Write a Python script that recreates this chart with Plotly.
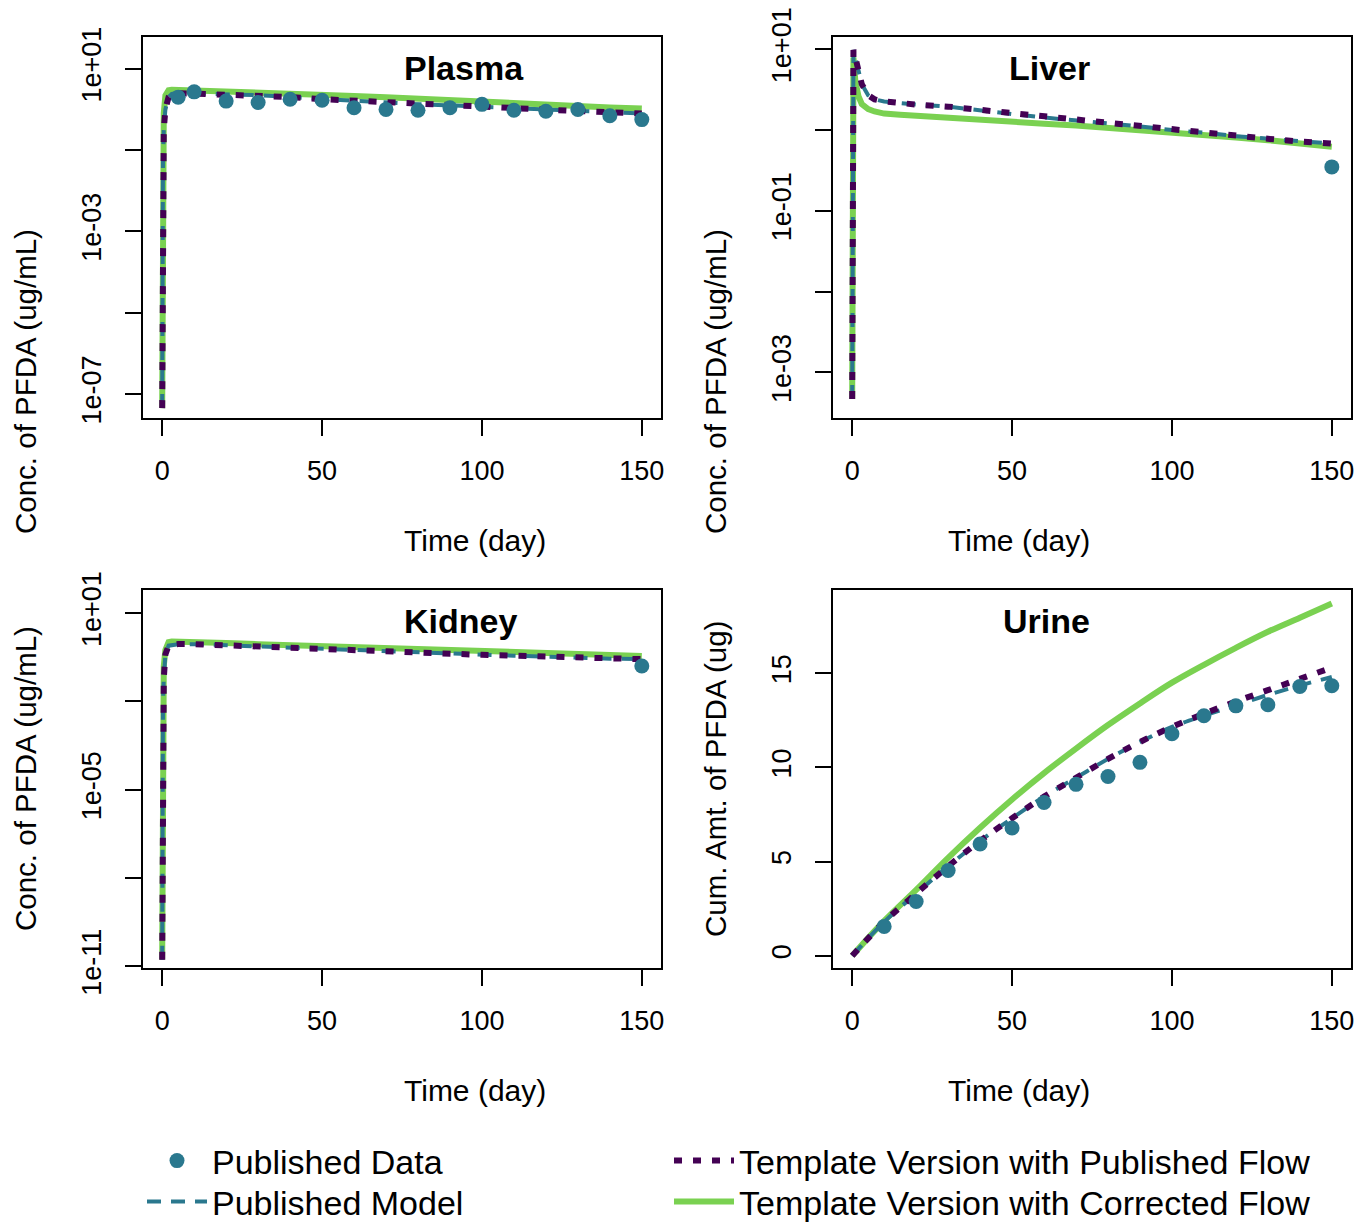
import plotly.graph_objects as go

W, H = 1371, 1222
OFF = 8  # page body margin: screen position = figure position + OFF
FONT = "Liberation Sans, Arial, sans-serif"
TEAL = "#2A788E"
PURPLE = "#440154"
GREEN = "#7AD151"

# ---------------- data ----------------
t_conc = [0, 0.05, 0.1, 0.25, 0.5, 1, 2, 3, 5, 10, 20, 30, 40, 50, 60, 70, 80, 90,
          100, 110, 120, 130, 140, 150]
t_liver = [0, 0.05, 0.1, 0.2, 0.4, 1, 2, 3, 5, 7, 10, 15, 20, 30, 40, 50, 60, 70, 80,
           90, 100, 110, 120, 130, 140, 150]
t_urine = [0, 10, 20, 30, 40, 50, 60, 70, 80, 90, 100, 110, 120, 130, 140, 150]
t_data = [5, 10, 20, 30, 40, 50, 60, 70, 80, 90, 100, 110, 120, 130, 140, 150]

# Plasma (ug/mL)
plasma_data = [2.0, 2.7, 1.6, 1.47, 1.77, 1.67, 1.1, 1.0, 0.95, 1.1, 1.33, 0.95, 0.90,
               0.99, 0.70, 0.56]
plasma_pub_model = [4.5e-8, 1e-4, 3.2e-3, 0.063, 0.32, 1.0, 2.0, 2.4, 2.5, 2.45, 2.35,
                    2.24, 2.0, 1.80, 1.64, 1.50, 1.34, 1.26, 1.19, 1.08, 0.99, 0.92,
                    0.85, 0.79]
plasma_tmpl_pub = [4.5e-8, 1e-4, 3.2e-3, 0.063, 0.32, 1.0, 2.0, 2.4, 2.5, 2.45, 2.35,
                   2.24, 2.0, 1.78, 1.62, 1.48, 1.33, 1.26, 1.19, 1.07, 0.99, 0.91,
                   0.85, 0.79]
plasma_tmpl_cor = [4.5e-8, 2e-4, 6e-3, 0.15, 0.8, 2.2, 2.95, 3.05, 3.02, 2.95, 2.82,
                   2.63, 2.45, 2.29, 2.14, 2.0, 1.82, 1.66, 1.51, 1.41, 1.32, 1.20,
                   1.12, 1.05]

# Liver (ug/mL)
liver_t_data = [150]
liver_data = [0.35]
liver_pub_model = [4.7e-4, 0.032, 1.0, 5.0, 9.8, 7.9, 5.6, 3.7, 2.7, 2.4, 2.26, 2.14,
                   2.07, 1.95, 1.78, 1.58, 1.43, 1.32, 1.22, 1.11, 1.0, 0.93, 0.84,
                   0.78, 0.72, 0.68]
liver_tmpl_pub = [4.7e-4, 0.032, 1.0, 5.0, 9.8, 7.9, 5.6, 3.7, 2.7, 2.4, 2.26, 2.14,
                  2.07, 1.95, 1.78, 1.58, 1.43, 1.32, 1.22, 1.11, 1.0, 0.93, 0.84,
                  0.78, 0.72, 0.68]
liver_tmpl_cor = [4.7e-4, 0.032, 1.0, 7.1, 7.9, 4.0, 2.6, 2.1, 1.82, 1.70, 1.60, 1.55,
                  1.50, 1.41, 1.33, 1.26, 1.20, 1.14, 1.07, 1.01, 0.94, 0.87, 0.81,
                  0.75, 0.68, 0.62]

# Kidney (ug/mL)
kidney_t_data = [150]
kidney_data = [0.16]
kidney_pub_model = [1.66e-11, 1e-6, 1e-4, 0.01, 0.06, 0.4, 0.79, 0.84, 0.88, 0.89,
                    0.81, 0.74, 0.66, 0.60, 0.55, 0.52, 0.45, 0.42, 0.385, 0.36, 0.335,
                    0.30, 0.285, 0.275]
kidney_tmpl_pub = [1.66e-11, 1e-6, 1e-4, 0.01, 0.06, 0.4, 0.79, 0.84, 0.90, 0.89,
                   0.81, 0.74, 0.65, 0.56, 0.54, 0.52, 0.44, 0.41, 0.385, 0.36, 0.34,
                   0.295, 0.285, 0.275]
kidney_tmpl_cor = [1.66e-11, 1e-6, 1.6e-4, 0.016, 0.16, 0.56, 1.05, 1.10, 1.10, 1.07,
                   0.98, 0.89, 0.83, 0.78, 0.71, 0.65, 0.59, 0.54, 0.50, 0.47, 0.44,
                   0.41, 0.38, 0.355]

# Urine (ug, cumulative)
urine_t_data = [10, 20, 30, 40, 50, 60, 70, 80, 90, 100, 110, 120, 130, 140, 150]
urine_data = [1.56, 2.88, 4.53, 5.93, 6.78, 8.14, 9.1, 9.52, 10.27, 11.79, 12.74,
              13.27, 13.33, 14.3, 14.34]
urine_pub_model = [0, 1.8, 3.3, 4.75, 6.1, 7.3, 8.45, 9.45, 10.45, 11.35, 12.15, 12.75,
                   13.3, 13.85, 14.35, 14.8]
urine_tmpl_pub = [0, 1.8, 3.3, 4.75, 6.1, 7.3, 8.45, 9.45, 10.45, 11.35, 12.15, 12.85,
                  13.5, 14.1, 14.7, 15.3]
urine_tmpl_cor = [0, 1.85, 3.5, 5.2, 6.8, 8.3, 9.7, 11.0, 12.25, 13.4, 14.5, 15.45,
                  16.35, 17.2, 17.95, 18.7]

panel_titles = ["Plasma", "Liver", "Kidney", "Urine"]
y_titles = ["Conc. of PFDA (ug/mL)", "Conc. of PFDA (ug/mL)",
            "Conc. of PFDA (ug/mL)", "Cum. Amt. of PFDA (ug)"]
x_title = "Time (day)"
x_ticks = [0, 50, 100, 150]
legend_names = ["Published Data", "Published Model",
                "Template Version with Published Flow",
                "Template Version with Corrected Flow"]

plasma_ticks = [1e1, 1e-1, 1e-3, 1e-5, 1e-7]
plasma_ticktext = ["1e+01", "", "1e-03", "", "1e-07"]
liver_ticks = [1e1, 1e0, 1e-1, 1e-2, 1e-3]
liver_ticktext = ["1e+01", "", "1e-01", "", "1e-03"]
kidney_ticks = [1e1, 1e-2, 1e-5, 1e-8, 1e-11]
kidney_ticktext = ["1e+01", "", "1e-05", "", "1e-11"]
urine_ticks = [0, 5, 10, 15]
urine_ticktext = ["0", "5", "10", "15"]


def px(sx):
    return (sx - OFF) / W


def py(sy):
    return 1 - (sy - OFF) / H


# ---------------- layout geometry (screen pixels) ----------------
boxes = [(143, 661, 37, 418), (833, 1351, 37, 418),
         (143, 661, 590, 968), (833, 1351, 590, 968)]
y_ranges = [[-7.59, 1.78], [-3.564, 1.152], [-11.06, 1.79], [-0.65, 19.42]]
y_types = ["log", "log", "log", "linear"]
y_tickvals = [plasma_ticks, liver_ticks, kidney_ticks, urine_ticks]
y_ticktexts = [plasma_ticktext, liver_ticktext, kidney_ticktext, urine_ticktext]
shapes_line = ["linear", "linear", "linear", "spline"]

panels = [
    (t_conc, plasma_tmpl_cor, plasma_pub_model, plasma_tmpl_pub, t_data, plasma_data),
    (t_liver, liver_tmpl_cor, liver_pub_model, liver_tmpl_pub, liver_t_data, liver_data),
    (t_conc, kidney_tmpl_cor, kidney_pub_model, kidney_tmpl_pub, kidney_t_data, kidney_data),
    (t_urine, urine_tmpl_cor, urine_pub_model, urine_tmpl_pub, urine_t_data, urine_data),
]

fig = go.Figure()
fig.update_layout(template="none")

for i, (tt, cor, pm, tp, td, dd) in enumerate(panels):
    xa = "x" if i == 0 else f"x{i+1}"
    ya = "y" if i == 0 else f"y{i+1}"
    show = i == 0
    shp = shapes_line[i]
    fig.add_trace(go.Scatter(x=tt, y=cor, mode="lines", name=legend_names[3],
                             line=dict(color=GREEN, width=6, shape=shp),
                             xaxis=xa, yaxis=ya, showlegend=show, legend="legend4"))
    fig.add_trace(go.Scatter(x=tt, y=pm, mode="lines", name=legend_names[1],
                             line=dict(color=TEAL, width=4, dash="14px,10px", shape=shp),
                             xaxis=xa, yaxis=ya, showlegend=show, legend="legend3"))
    fig.add_trace(go.Scatter(x=tt, y=tp, mode="lines", name=legend_names[2],
                             line=dict(color=PURPLE, width=6, dash="8px,11px", shape=shp),
                             xaxis=xa, yaxis=ya, showlegend=show, legend="legend2"))
    fig.add_trace(go.Scatter(x=td, y=dd, mode="markers", name=legend_names[0],
                             marker=dict(color=TEAL, size=15),
                             xaxis=xa, yaxis=ya, showlegend=show, legend="legend"))

annotations = []
for i, (x0, x1, y0, y1) in enumerate(boxes):
    sx = "" if i == 0 else str(i + 1)
    xd = [px(x0), px(x1)]
    yd = [py(y1), py(y0)]
    fig.layout[f"xaxis{sx}"] = dict(
        domain=xd, range=[-6, 156], tickvals=x_ticks, ticks="outside", ticklen=16,
        tickwidth=2, tickcolor="black", showline=True, linecolor="black", linewidth=2,
        mirror=True, showgrid=False, zeroline=False, anchor=f"y{sx}", automargin=False,
        ticklabeloverflow="allow",
        tickfont=dict(size=27, color="black", family=FONT), ticklabelstandoff=12)
    fig.layout[f"yaxis{sx}"] = dict(
        domain=yd, type=y_types[i], range=y_ranges[i], tickvals=y_tickvals[i],
        ticktext=y_ticktexts[i], ticks="outside", ticklen=16, tickwidth=2,
        tickcolor="black", showline=True, linecolor="black", linewidth=2, mirror=True,
        showgrid=False, zeroline=False, anchor=f"x{sx}", tickangle=-90, automargin=False,
        ticklabeloverflow="allow",
        tickfont=dict(size=27, color="black", family=FONT), ticklabelstandoff=13)
    cx = (x0 + x1) / 2
    annotations.append(dict(text=f"<b>{panel_titles[i]}</b>", x=px(cx),
                            y=py(y0 + 31), yanchor="middle",
                            xref="paper", yref="paper", showarrow=False,
                            font=dict(size=34, color="black", family=FONT)))
    annotations.append(dict(text=x_title, x=px(cx), y=py(y1 + 122),
                            yanchor="middle",
                            xref="paper", yref="paper", showarrow=False,
                            font=dict(size=30, color="black", family=FONT)))
    annotations.append(dict(text=y_titles[i], x=px(x0 - 118), xanchor="center",
                            y=py((y0 + y1) / 2),
                            xref="paper", yref="paper", showarrow=False, textangle=-90,
                            font=dict(size=29.5, color="black", family=FONT)))

leg_common = dict(orientation="v", xanchor="left", yanchor="top",
                  font=dict(size=34, color="black", family=FONT),
                  itemwidth=60, bgcolor="rgba(0,0,0,0)", borderwidth=0)
fig.update_layout(
    width=W, height=H, margin=dict(l=0, r=0, t=0, b=0, autoexpand=False),
    paper_bgcolor="white", plot_bgcolor="white",
    annotations=annotations,
    showlegend=True,
    legend=dict(x=134 / W, y=1 - 1124 / H, **leg_common),
    legend2=dict(x=661 / W, y=1 - 1124 / H, **leg_common),
    legend3=dict(x=134 / W, y=1 - 1165 / H, **leg_common),
    legend4=dict(x=661 / W, y=1 - 1165 / H, **leg_common),
    font=dict(family=FONT, color="black"),
)

fig.write_html("out.html")
